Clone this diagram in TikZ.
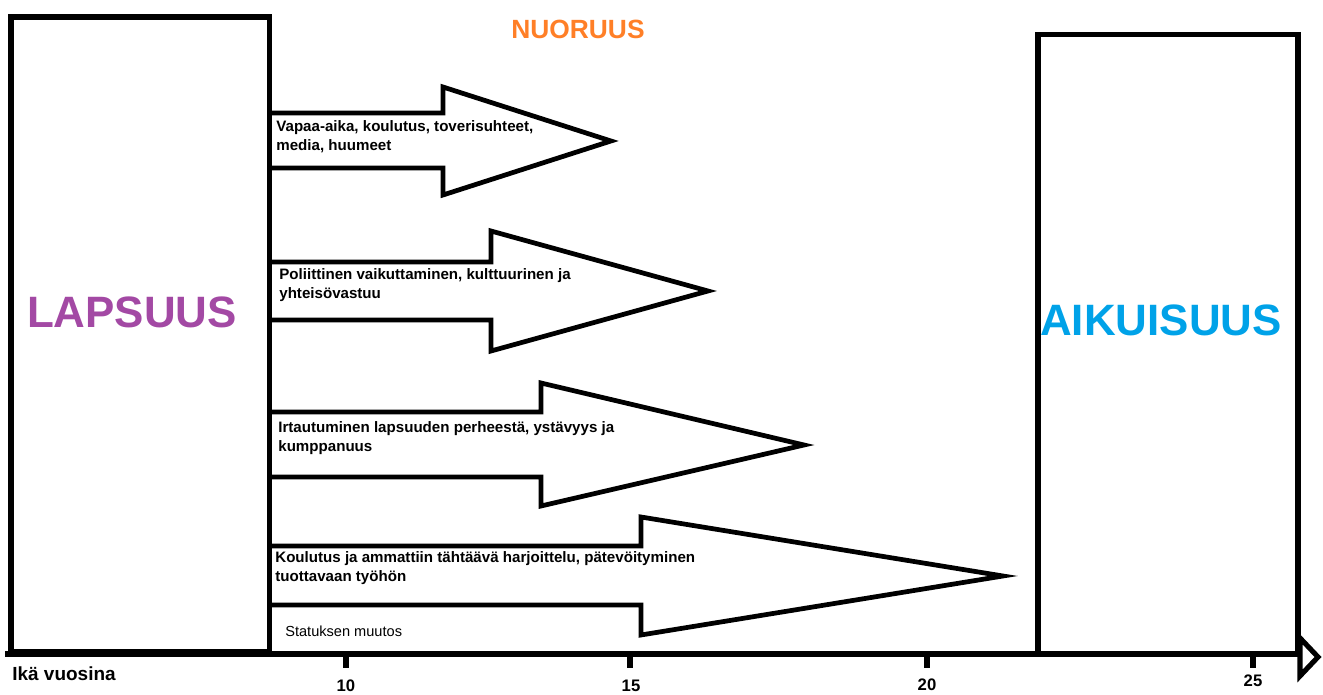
\documentclass[tikz,border=0pt]{standalone}
\usepackage{fontspec}
\setmainfont{Liberation Sans}
\usepackage{tikz}
\usetikzlibrary{positioning}

\definecolor{lapsuuscol}{HTML}{A349A4}
\definecolor{aikuiscol}{HTML}{00A2E8}
\definecolor{nuoruuscol}{HTML}{FF7F27}

\begin{document}
\begin{tikzpicture}[x=0.02cm, y=-0.02cm]
    \tikzstyle{frame} = [line width=2.9pt]
    \tikzstyle{blockarrow} = [line width=2.7pt, line join=miter]
    \tikzstyle{arrowtext} = [anchor=west, align=left, inner sep=0pt, font=\fontsize{8.6}{10.8}\selectfont\bfseries]
    \tikzstyle{stage} = [font=\fontsize{25}{30}\selectfont\bfseries]
    \tikzstyle{agelabel} = [font=\fontsize{9.5}{11}\selectfont\bfseries]

    \useasboundingbox (0,0) rectangle (1323,695);

    % vaiheet
    \draw [frame] (11,17) rectangle (269.5,652);
    \draw [frame] (1038,34.5) rectangle (1298,654);
    \node[stage, text=lapsuuscol] (lapsuus) at (132,312) {LAPSUUS};
    \node[stage, text=aikuiscol] (aikuisuus) at (1161,320) {AIKUISUUS};
    \node[font=\fontsize{15}{18}\selectfont\bfseries, text=nuoruuscol] (nuoruus) at (578,29) {NUORUUS};

    % nuoruuden tehtävät
    \draw [blockarrow] (269.5,113) -- (443,113) -- (443,87) -- (611,141) -- (443,195) -- (443,168) -- (269.5,168);
    \draw [blockarrow] (269.5,262) -- (491,262) -- (491,231) -- (708,291) -- (491,351) -- (491,320) -- (269.5,320);
    \draw [blockarrow] (269.5,412) -- (541,412) -- (541,383) -- (804,445) -- (541,506) -- (541,477) -- (269.5,477);
    \draw [blockarrow] (269.5,546) -- (641,546) -- (641,517) -- (1003,576) -- (641,635) -- (641,605) -- (269.5,605);

    \node[arrowtext] (vapaa) at (276,136.5) {Vapaa-aika, koulutus, toverisuhteet,\\media, huumeet};
    \node[arrowtext] (poli) at (279,285.5) {Poliittinen vaikuttaminen, kulttuurinen ja\\yhteisövastuu};
    \node[arrowtext] (irtau) at (278,438) {Irtautuminen lapsuuden perheestä, ystävyys ja\\kumppanuus};
    \node[arrowtext] (koulu) at (275,568) {Koulutus ja ammattiin tähtäävä harjoittelu, pätevöityminen\\tuottavaan työhön};
    \node[anchor=west, inner sep=0pt, font=\fontsize{8.3}{10}\selectfont] (status) at (285,631) {Statuksen muutos};

    % ikäakseli
    \coordinate (agestart) at (5,654);
    \coordinate (ageend) at (1300,654);
    \draw [frame] (agestart) -- (ageend);
    \draw [frame, line join=miter] (1300,638) -- (1318,657) -- (1300,676) -- cycle;

    \draw [frame] (346,654) -- (346,668);
    \draw [frame] (630,654) -- (630,668);
    \draw [frame] (927,654) -- (927,668);
    \draw [frame] (1253,654) -- (1253,668);

    \node[agelabel] (a10) at (346,686) {10};
    \node[agelabel] (a15) at (631,686) {15};
    \node[agelabel] (a20) at (927,685) {20};
    \node[agelabel] (a25) at (1253,681) {25};
    \node[anchor=west, inner sep=0pt, font=\fontsize{10.8}{12}\selectfont\bfseries] (ika) at (12,674) {Ikä vuosina};
\end{tikzpicture}
\end{document}
